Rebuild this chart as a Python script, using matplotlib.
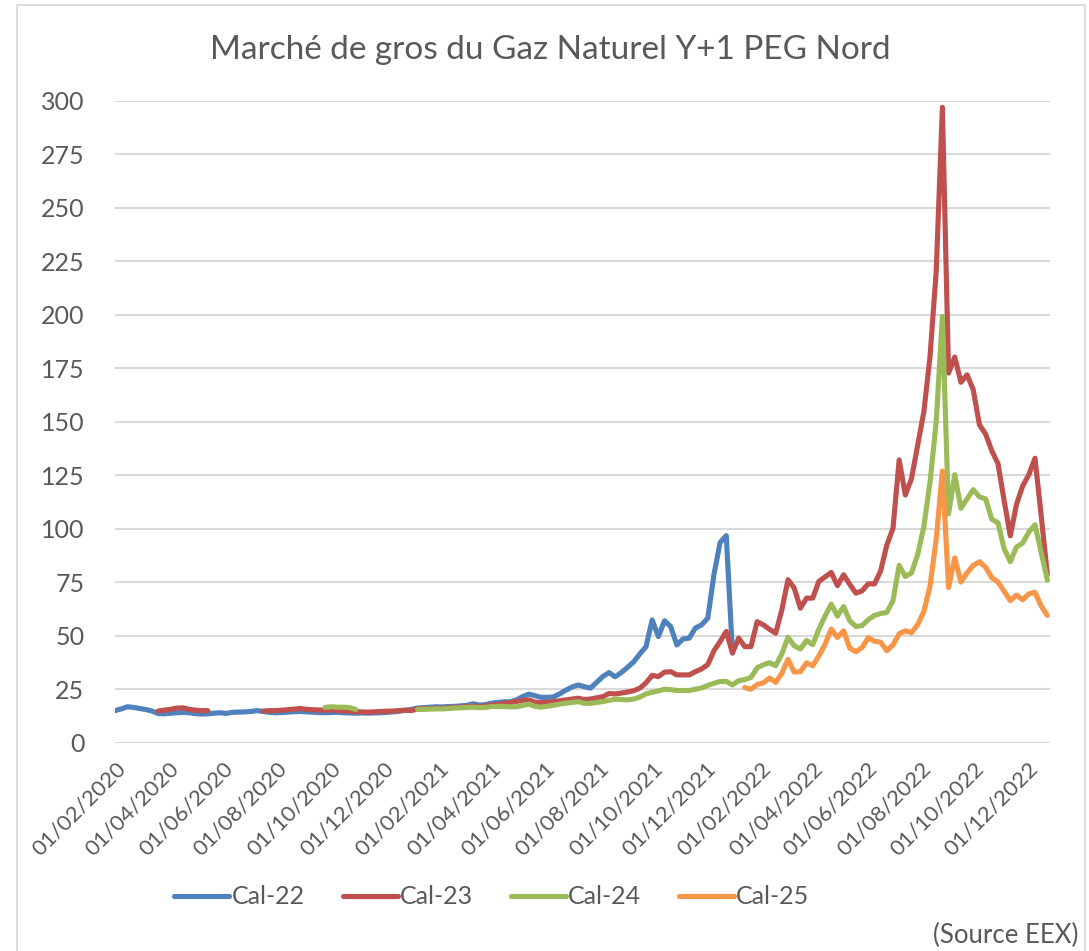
import numpy as np
import pandas as pd
import matplotlib
matplotlib.use('Agg')
import matplotlib.pyplot as plt
from matplotlib.patches import Rectangle

plt.rcParams['font.family'] = ['Lato', 'DejaVu Sans']

nan = np.nan

# weekly prices (EUR/MWh), one point per Friday
weeks = pd.date_range('2020-01-31', periods=152, freq='7D')

cal22 = [15.0, 15.8, 16.8, 16.5, 16.0, 15.5, 14.8, 13.6, 13.5, 13.8,
         14.0, 14.2, 14.0, 13.6, 13.4, 13.5, 13.8, 14.0, 13.7, 14.2,
         14.3, 14.4, 14.6, 15.0, 14.6, 14.2, 14.0, 14.1, 14.3, 14.5,
         14.6, 14.4, 14.3, 14.1, 14.0, 14.1, 14.2, 14.0, 13.9, 13.8,
         13.9, 13.8, 13.9, 14.0, 14.2, 14.4, 14.7, 15.1, 15.6, 16.2,
         16.4, 16.6, 16.8, 16.7, 16.9, 17.0, 17.2, 17.5, 18.2, 17.6,
         17.8, 18.5, 18.8, 19.1, 19.1, 20.0, 21.5, 22.7, 22.0, 21.2,
         21.2, 21.4, 22.8, 24.5, 26.0, 27.0, 26.2, 25.5, 28.2, 30.9,
         32.8, 30.8, 32.8, 35.2, 37.8, 41.5, 44.9, 57.4, 49.6, 57.0,
         54.3, 45.7, 48.5, 48.9, 53.6, 55.1, 58.2, 78.5, 93.6, 96.8,
         42.0] + [nan] * 51

cal23 = [nan] * 7 + [14.8, 15.2, 15.6, 16.2, 16.3, 15.6, 15.2, 15.0, 15.0] + [nan] * 8 + [
         14.8, 15.0, 15.0, 15.2, 15.4, 15.7, 16.0, 15.6, 15.4, 15.3,
         15.2, 15.3, 15.1, 14.9, 14.7, 14.5, 14.4, 14.3, 14.4, 14.6,
         14.7, 14.8, 15.0, 15.2, 15.0, 15.8, 15.9, 16.0, 16.1, 16.1,
         16.3, 16.5, 16.6, 16.9, 17.1, 16.9, 17.1, 17.6, 18.0, 18.4,
         18.8, 19.3, 19.8, 20.0, 19.0, 18.7, 19.0, 19.2, 19.6, 20.0,
         20.4, 20.8, 20.2, 20.4, 21.0, 21.5, 23.0, 22.8, 23.2, 23.7,
         24.3, 25.5, 28.0, 31.5, 30.9, 33.0, 33.2, 31.7, 31.7, 31.7,
         33.2, 34.5, 36.5, 43.0, 47.3, 52.0, 41.9, 48.9, 44.9, 44.9,
         56.6, 55.1, 53.0, 51.2, 62.1, 76.2, 72.3, 62.9, 67.6, 67.6,
         75.4, 77.5, 79.6, 73.4, 78.5, 74.0, 69.9, 71.0, 74.3, 74.2,
         80.3, 92.4, 100.2, 132.2, 115.8, 123.5, 139.0, 154.7, 180.6, 220.4,
         297.0, 172.8, 180.3, 168.5, 172.0, 165.0, 148.6, 144.3, 136.5, 130.5,
         113.2, 96.7, 111.4, 120.0, 125.3, 133.0, 106.2, 78.6]

cal24 = [nan] * 34 + [16.5, 16.8, 16.6, 16.6, 16.4, 15.5] + [nan] * 9 + [
         15.6, 15.6, 15.7, 15.8, 15.8, 16.0, 16.2, 16.3, 16.5, 16.6,
         16.4, 16.5, 16.9, 17.0, 16.9, 16.8, 16.8, 17.4, 18.0, 17.0,
         16.6, 17.0, 17.5, 18.0, 18.5, 18.8, 19.2, 18.4, 18.4, 18.8,
         19.2, 19.8, 20.3, 20.2, 20.0, 20.4, 21.3, 22.8, 23.6, 24.2,
         25.0, 24.8, 24.4, 24.4, 24.4, 25.0, 25.6, 26.8, 27.8, 28.6,
         28.7, 27.0, 29.0, 29.5, 30.5, 35.0, 36.4, 37.4, 36.0, 41.5,
         49.3, 45.3, 43.8, 47.8, 45.8, 53.1, 59.2, 64.8, 59.2, 63.6,
         57.0, 54.3, 54.8, 57.5, 59.5, 60.4, 60.9, 66.4, 82.9, 77.7,
         79.4, 88.0, 101.0, 121.8, 150.0, 199.3, 107.0, 125.3, 109.6, 114.0,
         118.3, 114.9, 114.0, 104.5, 102.8, 90.7, 84.6, 91.5, 93.3, 98.5,
         101.9, 89.0, 76.0]

cal25 = [nan] * 102 + [
         25.8, 25.0, 27.2, 28.0, 30.2, 28.2, 32.5, 39.0, 33.0, 33.2,
         37.3, 36.0, 40.6, 46.0, 53.1, 49.2, 52.3, 44.2, 42.5, 44.5,
         49.1, 47.4, 47.0, 43.0, 45.7, 50.9, 52.3, 51.4, 55.2, 61.3,
         73.4, 95.0, 127.0, 72.5, 86.4, 75.1, 79.4, 82.9, 84.6, 82.0,
         77.2, 75.1, 70.8, 66.4, 69.0, 66.8, 69.6, 70.3, 63.9, 59.5]

series = ['Cal-22', 'Cal-23', 'Cal-24', 'Cal-25']
colors = ['#4F81BD', '#C0504D', '#9BBB59', '#F79646']

tick_labels = ['01/02/2020', '01/04/2020', '01/06/2020', '01/08/2020', '01/10/2020',
               '01/12/2020', '01/02/2021', '01/04/2021', '01/06/2021', '01/08/2021',
               '01/10/2021', '01/12/2021', '01/02/2022', '01/04/2022', '01/06/2022',
               '01/08/2022', '01/10/2022', '01/12/2022']

W, H = 1089, 951
fig = plt.figure(figsize=(W / 100, H / 100), dpi=100)
ax = fig.add_axes([115 / W, 1 - 742.7 / H, (1050 - 115) / W, (742.7 - 101) / H])

for name, vals, c in zip(series, [cal22, cal23, cal24, cal25], colors):
    ax.plot(weeks, vals, color=c, lw=3.7, label=name,
            solid_capstyle='round', solid_joinstyle='round')

grey = '#595959'
ax.set_ylim(0, 300)
ax.set_yticks(np.arange(0, 301, 25))
ax.set_xlim(pd.Timestamp('2020-01-31'), pd.Timestamp('2022-12-26'))
ax.set_xticks(pd.to_datetime(tick_labels, format='%d/%m/%Y'))
ax.set_xticklabels(tick_labels, rotation=45, ha='right', va='top',
                   rotation_mode='anchor')
ax.tick_params(axis='y', length=0, pad=22, labelsize=18, labelcolor=grey)
ax.tick_params(axis='x', length=0, pad=11, labelsize=16, labelcolor=grey)
ax.grid(axis='y', color='#D9D9D9', lw=1.5)
ax.set_axisbelow(True)
for s in ax.spines.values():
    s.set_visible(False)

fig.text(550 / W, 1 - 50 / H, 'Marché de gros du Gaz Naturel Y+1 PEG Nord',
         ha='center', va='center', fontsize=24, color=grey)

fig.legend(loc='center', bbox_to_anchor=(492 / W, 1 - 897 / H), ncol=4,
           frameon=False, fontsize=18, handlelength=2.2, handletextpad=0.1,
           columnspacing=1.5, labelcolor=grey)

fig.text(1078 / W, 1 - 935 / H, '(Source EEX)', ha='right', va='center',
         fontsize=18.5, color=grey)

fig.patches.append(Rectangle((17 / W, -0.01), (1085 - 17) / W, 1.01 - 5 / H,
                             transform=fig.transFigure, fill=False,
                             edgecolor='#D9D9D9', lw=1.3))

fig.savefig('out.png', dpi=100, facecolor='white')
